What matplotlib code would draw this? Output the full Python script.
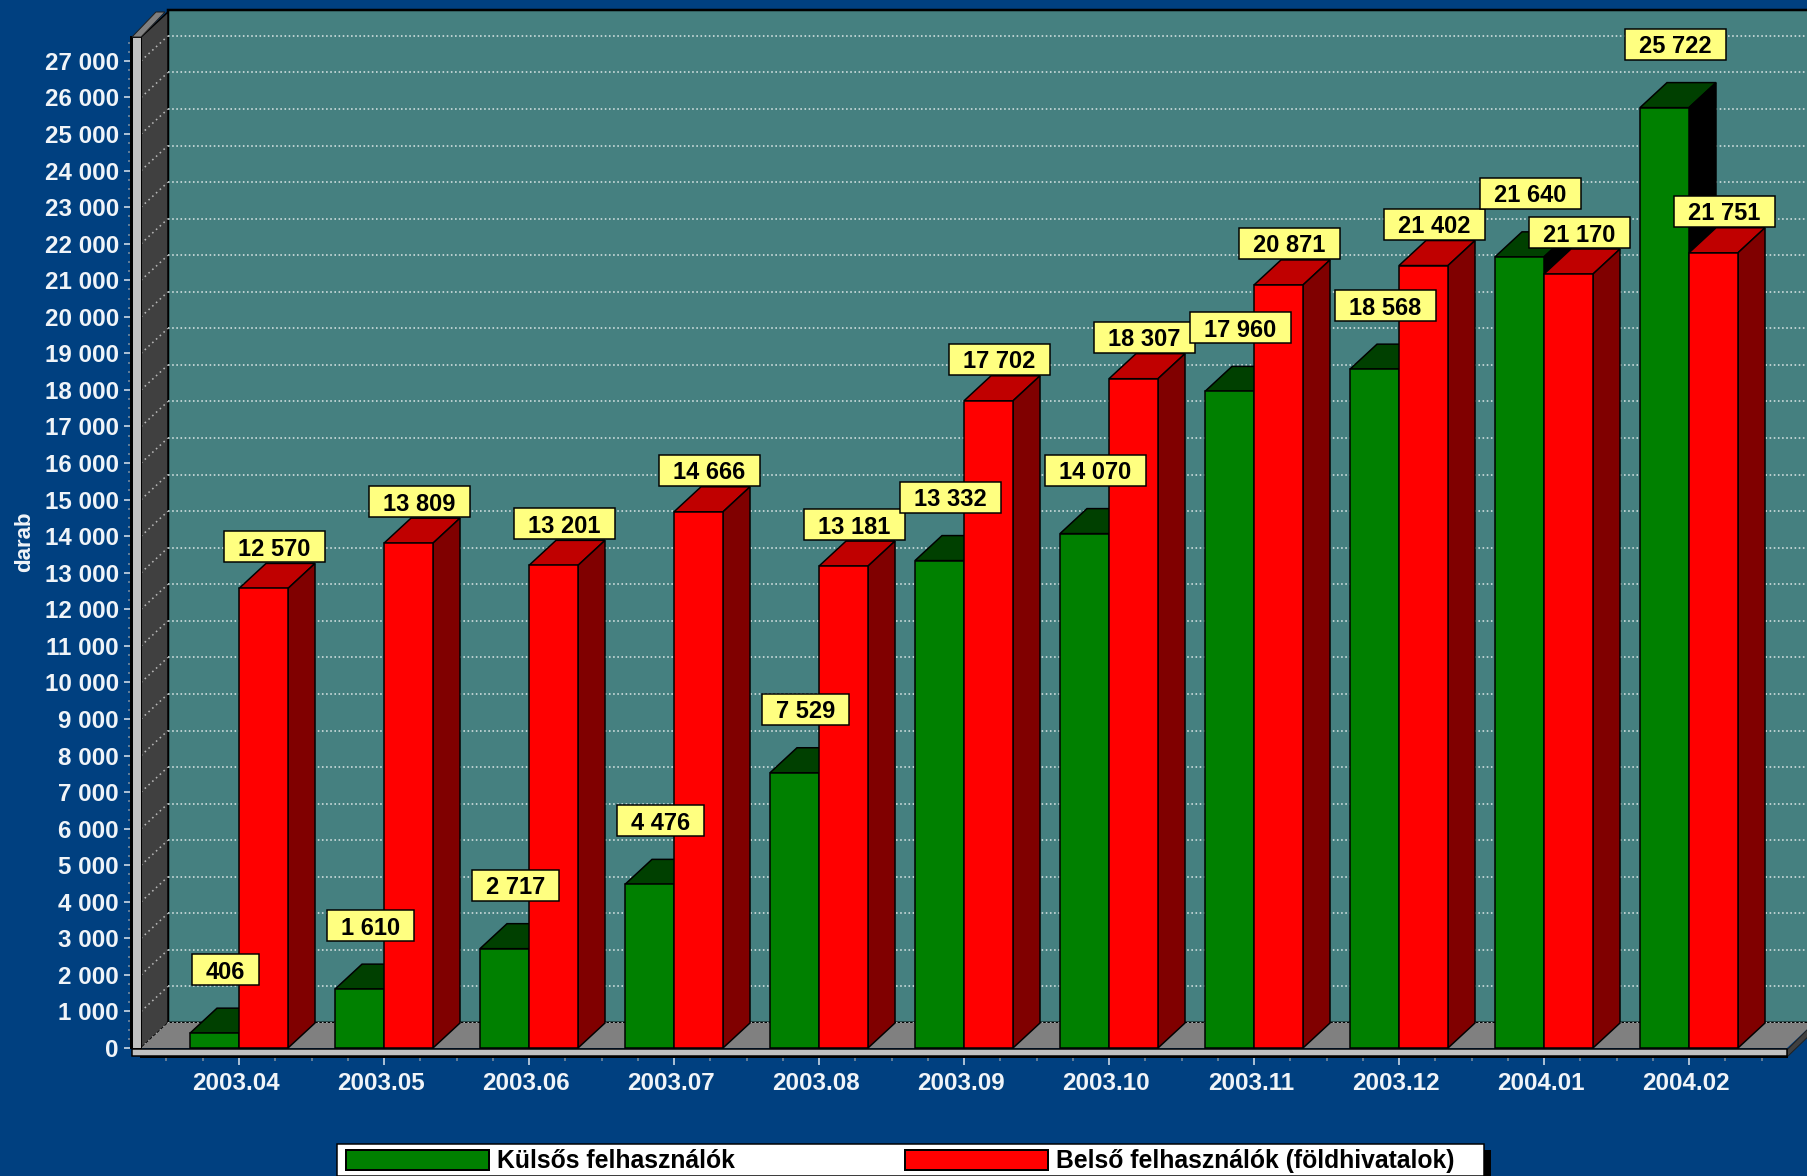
import matplotlib
matplotlib.use("Agg")
from matplotlib import pyplot as plt
from matplotlib.patches import Polygon, Rectangle
from matplotlib.path import Path
from matplotlib.transforms import IdentityTransform, ScaledTranslation
import numpy as np

months = ['2003.04', '2003.05', '2003.06', '2003.07', '2003.08', '2003.09',
          '2003.10', '2003.11', '2003.12', '2004.01', '2004.02']
kulsos = [406, 1610, 2717, 4476, 7529, 13332, 14070, 17960, 18568, 21640, 25722]
belso = [12570, 13809, 13201, 14666, 13181, 17702, 18307, 20871, 21402, 21170, 21751]
legend_names = ['Külsős felhasználók', 'Belső felhasználók (földhivatalok)']
y_label = 'darab'
y_ticks = list(range(0, 28000, 1000))

W, H = 1808, 1176
FONT = 'Liberation Sans'
BG = '#004080'
WALL = '#458080'
PT = 0.72  # one pixel in points at dpi 100

# front plane of the chart, in pixels
LEFT, RIGHT, BOTTOM, TOP = 141, 1787, 1048, 37
CAT_PX = 145.0
FIRST_PX = 239.0
VAL_PX = 36.56 / 1000
DEPTH_X, DEPTH_Y = 27, 25

BAR_W = 49 / CAT_PX
DX = DEPTH_X / CAT_PX
DY = DEPTH_Y / VAL_PX


def px(points):
    # pixel positions measured from the top left corner
    return [(x, H - y) for x, y in points]


def frame_poly(ax, points, color, z, edge='black', lw=1.5):
    ax.add_patch(Polygon(px(points), closed=True, facecolor=color, edgecolor=edge,
                         linewidth=lw * PT, transform=IdentityTransform(),
                         clip_on=False, zorder=z))


def label_box(x0, y0, width, height, mutation_size):
    # fixed margins round the number, like the yellow boxes of the original
    cx = x0 + width / 2
    cy = y0 + height / 2 + 2.5
    w = width / 2 + 14
    h = 15.5
    return Path([(cx - w, cy - h), (cx + w, cy - h), (cx + w, cy + h),
                 (cx - w, cy + h), (cx - w, cy - h)], closed=True)


def draw_bar(ax, left, value, front, top, side, z):
    ax.bar(left, value, BAR_W, align='edge', color=front, edgecolor='black',
           linewidth=1.5 * PT, zorder=z + 0.2, clip_on=False)
    right = left + BAR_W
    ax.fill([left, left + DX, right + DX, right], [value, value + DY, value + DY, value],
            facecolor=top, edgecolor='black', linewidth=1.5 * PT, zorder=z, clip_on=False)
    ax.fill([right, right + DX, right + DX, right], [0, DY, value + DY, value],
            facecolor=side, edgecolor='black', linewidth=1.5 * PT, zorder=z + 0.1, clip_on=False)


def draw_label(ax, x, value, lift):
    ax.annotate(f'{value:,}'.replace(',', ' '), xy=(x, value), xytext=(0, lift * PT),
                textcoords='offset points', ha='center', va='center',
                fontsize=17, fontweight='bold', family=FONT, color='black', zorder=100,
                annotation_clip=False,
                bbox=dict(boxstyle=label_box, facecolor='#FFFF80', edgecolor='black',
                          linewidth=1.5 * PT))


fig = plt.figure(figsize=(W / 100, H / 100), dpi=100, facecolor=BG)
ax = fig.add_axes([LEFT / W, 1 - BOTTOM / H, (RIGHT - LEFT) / W, (BOTTOM - TOP) / H])
ax.patch.set_visible(False)
ax.set_xlim((LEFT - FIRST_PX) / CAT_PX, (RIGHT - FIRST_PX) / CAT_PX)
ax.set_ylim(0, (BOTTOM - TOP) / VAL_PX)

# walls and floor
frame_poly(ax, [(LEFT + DEPTH_X, BOTTOM - DEPTH_Y), (W + 5, BOTTOM - DEPTH_Y),
                (W + 5, TOP - DEPTH_Y - 2), (LEFT + DEPTH_X, TOP - DEPTH_Y - 2)], WALL, 0.5, lw=2.5)
frame_poly(ax, [(LEFT, BOTTOM), (LEFT + DEPTH_X, BOTTOM - DEPTH_Y),
                (LEFT + DEPTH_X, TOP - DEPTH_Y), (LEFT, TOP)], '#404040', 0.6)

# grid on the back wall and on the left wall
xlim = ax.get_xlim()
right_end = (W + 5 - FIRST_PX) / CAT_PX
for v in y_ticks:
    if v == 0:
        ax.plot([xlim[0] + DX, right_end], [DY, DY], color='black', lw=2.5 * PT,
                clip_on=False, zorder=0.7)
    ax.plot([xlim[0] + DX, right_end], [v + DY, v + DY], color='#D5E2E2', lw=1.6 * PT,
            ls=(0, (1, 1.6)), clip_on=False, zorder=0.8)
    ax.plot([xlim[0], xlim[0] + DX], [v, v + DY], color='#B8B8B8', lw=1.6 * PT,
            ls=(0, (1, 2.2)), clip_on=False, zorder=0.8)

# floor
frame_poly(ax, [(LEFT, BOTTOM), (LEFT + DEPTH_X, BOTTOM - DEPTH_Y),
                (RIGHT + DEPTH_X, BOTTOM - DEPTH_Y), (RIGHT, BOTTOM)], '#808080', 0.9, edge='none', lw=0)

# bars, left to right so each one covers the side of the one before
for i in range(len(months)):
    draw_bar(ax, i - BAR_W, kulsos[i], '#008000', '#004000', 'black', 3 + i)
    draw_bar(ax, i, belso[i], '#FF0000', '#C00000', '#800000', 3.5 + i)
    draw_label(ax, i - BAR_W / 2 + 11 / CAT_PX, kulsos[i], 61)
    draw_label(ax, i + BAR_W / 2 + 11 / CAT_PX, belso[i], 39)

# light front strips
frame_poly(ax, [(132, TOP), (LEFT, TOP), (LEFT, BOTTOM), (132, BOTTOM)], '#C0C0C0', 20, lw=1)
frame_poly(ax, [(132, TOP), (LEFT, TOP), (LEFT + DEPTH_X - 3, TOP - DEPTH_Y), (132 + DEPTH_X - 3, TOP - DEPTH_Y)],
           '#808080', 20, edge='#202020', lw=1)
frame_poly(ax, [(RIGHT, BOTTOM + 2), (RIGHT + 27, BOTTOM - 25), (RIGHT + 27, BOTTOM - 17), (RIGHT, BOTTOM + 9)],
           '#404040', 19.5, edge='#202020', lw=1)
frame_poly(ax, [(132, BOTTOM + 1), (RIGHT, BOTTOM + 1), (RIGHT, BOTTOM + 8), (132, BOTTOM + 8)],
           '#C0C0C0', 20, lw=1.5)

# axes
for name in ['top', 'right']:
    ax.spines[name].set_visible(False)
ax.spines['left'].set_position(('outward', 10 * PT))
ax.spines['bottom'].set_position(('outward', 9 * PT))
for name in ['left', 'bottom']:
    ax.spines[name].set_color('black')
    ax.spines[name].set_linewidth(2 * PT)
    ax.spines[name].set_zorder(21)

ax.set_yticks(y_ticks)
ax.set_yticklabels([f'{v:,}'.replace(',', ' ') for v in y_ticks])
ax.set_yticks(np.arange(0, 27750, 250), minor=True)
ax.set_xticks(range(len(months)))
ax.set_xticklabels(months)
ax.set_xticks(np.arange(-0.5, 10.75, 0.25), minor=True)
ax.tick_params(axis='y', which='major', length=7 * PT, width=1.5 * PT, color='#E0E8F0', pad=5 * PT)
ax.tick_params(axis='x', which='major', length=8 * PT, width=1.5 * PT, color='#E0E8F0', pad=7 * PT)
ax.tick_params(which='minor', length=3.5 * PT, width=1.5 * PT, color='#8090A0')
for t in ax.get_xticklabels() + ax.get_yticklabels():
    t.set_fontfamily(FONT)
    t.set_fontweight('bold')
    t.set_fontsize(17.4)
    t.set_color('#F0F4F8')
# the month labels sit a little left of their ticks
shift = ScaledTranslation(-3 / 100, 0, fig.dpi_scale_trans)
for t in ax.get_xticklabels():
    t.set_transform(t.get_transform() + shift)

fig.text(25 / W, 1 - 542 / H, y_label, rotation=90, ha='center', va='center', family=FONT,
         fontweight='bold', fontsize=16, color='#F0F4F8')

# legend, runs off the bottom of the picture as in the original
legend_ax = fig.add_axes([0, 0, 1, 1])
legend_ax.axis('off')
legend_ax.set_xlim(0, W)
legend_ax.set_ylim(H, 0)
legend_ax.add_patch(Rectangle((1484, 1150), 7, 26, facecolor='black', edgecolor='none'))
legend_ax.add_patch(Rectangle((337, 1143.5), 1147, 32, facecolor='white', edgecolor='black', linewidth=1.5 * PT))
swatches = [(346, '#008000'), (905, '#FF0000')]
for (x0, color), name in zip(swatches, legend_names):
    legend_ax.add_patch(Rectangle((x0, 1150), 143, 20, facecolor=color, edgecolor='black', linewidth=2 * PT))
    legend_ax.text(x0 + 151, 1161, name, ha='left', va='center', family=FONT,
                   fontweight='bold', fontsize=17.8, color='black')

fig.savefig('out.png', dpi=100, facecolor=BG)
